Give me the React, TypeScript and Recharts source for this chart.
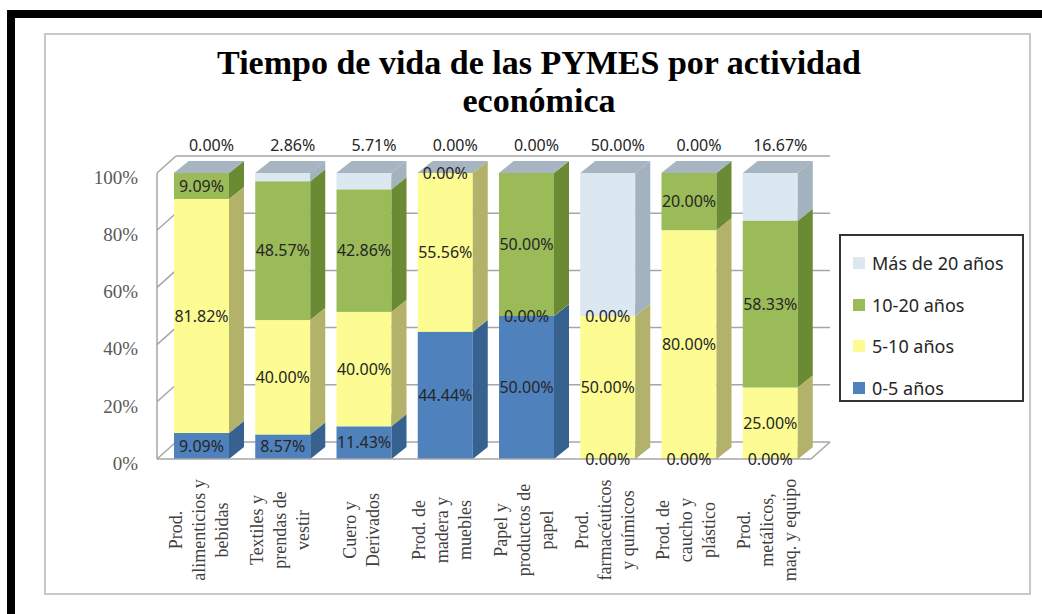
import React from 'react';
import { BarChart, Bar, XAxis, YAxis, CartesianGrid, Legend, LabelList, ReferenceLine } from 'recharts';

// ---------- data ----------
const categories = [
  'Prod.\nalimenticios y\nbebidas',
  'Textiles y\nprendas de\nvestir',
  'Cuero y\nDerivados',
  'Prod. de\nmadera y\nmuebles',
  'Papel y\nproductos de\npapel',
  'Prod.\nfarmacéuticos\ny químicos',
  'Prod. de\ncaucho y\nplástico',
  'Prod.\nmetálicos,\nmaq. y equipo',
];
const años0a5 = [9.09, 8.57, 11.43, 44.44, 50.0, 0.0, 0.0, 0.0];
const años5a10 = [81.82, 40.0, 40.0, 55.56, 0.0, 50.0, 80.0, 25.0];
const años10a20 = [9.09, 48.57, 42.86, 0.0, 50.0, 0.0, 20.0, 58.33];
const masDe20 = [0.0, 2.86, 5.71, 0.0, 0.0, 50.0, 0.0, 16.67];
const yTicks = [0, 20, 40, 60, 80, 100];
const seriesNames = ['0-5 años', '5-10 años', '10-20 años', 'Más de 20 años'];
const legendOrder = ['Más de 20 años', '10-20 años', '5-10 años', '0-5 años'];
const title = ['Tiempo de vida de las PYMES por actividad', 'económica'];

const data = categories.map((name, i) => ({
  name,
  a: años0a5[i],
  b: años5a10[i],
  c: años10a20[i],
  d: masDe20[i],
}));

// ---------- styling ----------
const FRONT = ['#4F81BD', '#FCFC92', '#9BBB59', '#DCE8F1'];
const SIDE = ['#37618F', '#B3B26B', '#6B8A34', '#A2B2BE'];
const TOP = ['#7FA5D6', '#FFFFC4', '#B5CF82', '#A6B5C1'];
const DX = 15;
const DY = 12;
const WX = 19;
const WY = 17;
const WALL = '#A6A6A6';

const make3D = (k: number) => (p: any) => {
  const { x, y, width: w, height: h } = p;
  if (x == null || y == null || isNaN(x) || isNaN(y)) return <g />;
  const hh = Math.max(0, h || 0);
  return (
    <g>
      <rect x={x} y={y} width={w} height={hh} fill={FRONT[k]} />
      <polygon
        points={`${x + w},${y + hh} ${x + w + DX},${y + hh - DY} ${x + w + DX},${y - DY} ${x + w},${y}`}
        fill={SIDE[k]}
      />
      <polygon
        points={`${x},${y} ${x + w},${y} ${x + w + DX},${y - DY} ${x + DX},${y - DY}`}
        fill={TOP[k]}
      />
    </g>
  );
};

const labelFont = { fontFamily: '"Noto Sans", sans-serif', fontSize: 16, fill: '#262626' };

const innerLabel = (p: any) => {
  const vb = p.viewBox || p;
  const { x, y, width, height } = vb;
  if (x == null) return null;
  return (
    <text x={x + width / 2} y={y + height / 2} dy="0.35em" textAnchor="middle" {...labelFont}>
      {Number(p.value).toFixed(2)}%
    </text>
  );
};

const topLabel = (p: any) => {
  const vb = p.viewBox || p;
  const { x, y, width } = vb;
  if (x == null) return null;
  return (
    <text x={x + width / 2 + 10} y={y - 28} dy="0.35em" textAnchor="middle" {...labelFont}>
      {Number(p.value).toFixed(2)}%
    </text>
  );
};

const XTick = (p: any) => {
  const { x, y, payload } = p;
  const lines = String(payload.value).split('\n');
  const lh = 23;
  return (
    <g transform={`translate(${x - 3},${y + 71})`}>
      <text transform="rotate(-90)" textAnchor="middle" fontFamily='"Liberation Serif", serif' fontSize={18} fill="#404040">
        {lines.map((l, i) => (
          <tspan key={i} x={0} y={(i - (lines.length - 1) / 2) * lh + 6}>
            {l}
          </tspan>
        ))}
      </text>
    </g>
  );
};

const YTick = (p: any) => {
  const { x, y, payload } = p;
  return (
    <text x={x} y={y + 4} dy="0.355em" textAnchor="end" fontFamily='"Liberation Serif", serif' fontSize={19} fill="#595959">
      {payload.value}%
    </text>
  );
};

const gridLine = (p: any) => {
  const { x1, y1, x2 } = p;
  return (
    <g key={p.key}>
      <line x1={x1} y1={y1} x2={x1 + WX} y2={y1 - WY} stroke={WALL} strokeWidth={1.5} />
      <line x1={x1 + WX} y1={y1 - WY} x2={x2 + WX} y2={y1 - WY} stroke={WALL} strokeWidth={1.5} />
    </g>
  );
};

const floorEdge = (p: any) => {
  const { x2, y2 } = p;
  return <line x1={x2} y1={y2} x2={x2 + WX} y2={y2 - WY} stroke={WALL} strokeWidth={1.5} />;
};

const LegendBox = (p: any) => {
  const items = [...(p.payload || [])].sort(
    (a: any, b: any) => legendOrder.indexOf(a.value) - legendOrder.indexOf(b.value)
  );
  return (
    <div
      style={{
        border: '2px solid #333',
        boxSizing: 'border-box',
        width: 185,
        height: 168,
        background: '#fff',
        paddingTop: 6,
      }}
    >
      {items.map((it: any, i: number) => (
        <div key={i} style={{ display: 'flex', alignItems: 'center', height: 41.7, paddingLeft: 12 }}>
          <span style={{ width: 12, height: 12, background: it.color, display: 'inline-block', marginRight: 7 }} />
          <span style={{ fontFamily: '"Noto Sans", sans-serif', fontSize: 18, color: '#262626', whiteSpace: 'nowrap' }}>
            {it.value}
          </span>
        </div>
      ))}
    </div>
  );
};

export default function App() {
  return (
    <div style={{ position: 'absolute', left: 0, top: 0, width: 1042, height: 614, background: '#fff', overflow: 'hidden' }}>
      <div style={{ position: 'absolute', left: 7, top: 10, width: 1035, height: 8, background: '#000' }} />
      <div style={{ position: 'absolute', left: 7, top: 10, width: 8, height: 604, background: '#000' }} />
      <div
        style={{
          position: 'absolute',
          left: 44,
          top: 33,
          width: 987,
          height: 562,
          border: '2px solid #C8C8C8',
          boxSizing: 'border-box',
        }}
      />
      <div
        style={{
          position: 'absolute',
          left: 46,
          top: 43.5,
          width: 986,
          textAlign: 'center',
          fontFamily: '"Liberation Serif", serif',
          fontWeight: 'bold',
          fontSize: 34,
          lineHeight: '38px',
          color: '#000',
        }}
      >
        {title.map((t, i) => (
          <div key={i}>{t}</div>
        ))}
      </div>
      <div style={{ position: 'absolute', left: 0, top: 0 }}>
        <BarChart width={1042} height={614} data={data} margin={{ top: 173, right: 231, bottom: 20, left: 0 }} barSize={55}>
          <CartesianGrid vertical={false} horizontal={gridLine} />
          <XAxis
            dataKey="name"
            interval={0}
            height={135}
            padding={{ left: 4, right: 0 }}
            tickLine={false}
            tickSize={0}
            tickMargin={0}
            axisLine={{ stroke: WALL, strokeWidth: 1.5 }}
            tick={XTick}
          />
          <YAxis
            width={157}
            domain={[0, 100]}
            ticks={yTicks}
            interval={0}
            tickLine={false}
            tickSize={0}
            tickMargin={19}
            axisLine={{ stroke: WALL, strokeWidth: 1.5 }}
            tick={YTick}
          />
          <ReferenceLine y={0} shape={floorEdge} />
          <Bar dataKey="a" name={seriesNames[0]} stackId="s" fill={FRONT[0]} shape={make3D(0)} isAnimationActive={false}>
            <LabelList dataKey="a" content={innerLabel} />
          </Bar>
          <Bar dataKey="b" name={seriesNames[1]} stackId="s" fill={FRONT[1]} shape={make3D(1)} isAnimationActive={false}>
            <LabelList dataKey="b" content={innerLabel} />
          </Bar>
          <Bar dataKey="c" name={seriesNames[2]} stackId="s" fill={FRONT[2]} shape={make3D(2)} isAnimationActive={false}>
            <LabelList dataKey="c" content={innerLabel} />
          </Bar>
          <Bar dataKey="d" name={seriesNames[3]} stackId="s" fill={FRONT[3]} shape={make3D(3)} isAnimationActive={false}>
            <LabelList dataKey="d" content={topLabel} />
          </Bar>
          <Legend
            layout="horizontal"
            verticalAlign="middle"
            align="right"
            content={LegendBox}
            wrapperStyle={{ left: 839, top: 234, width: 0, height: 0, overflow: 'visible' }}
          />
        </BarChart>
      </div>
    </div>
  );
}
